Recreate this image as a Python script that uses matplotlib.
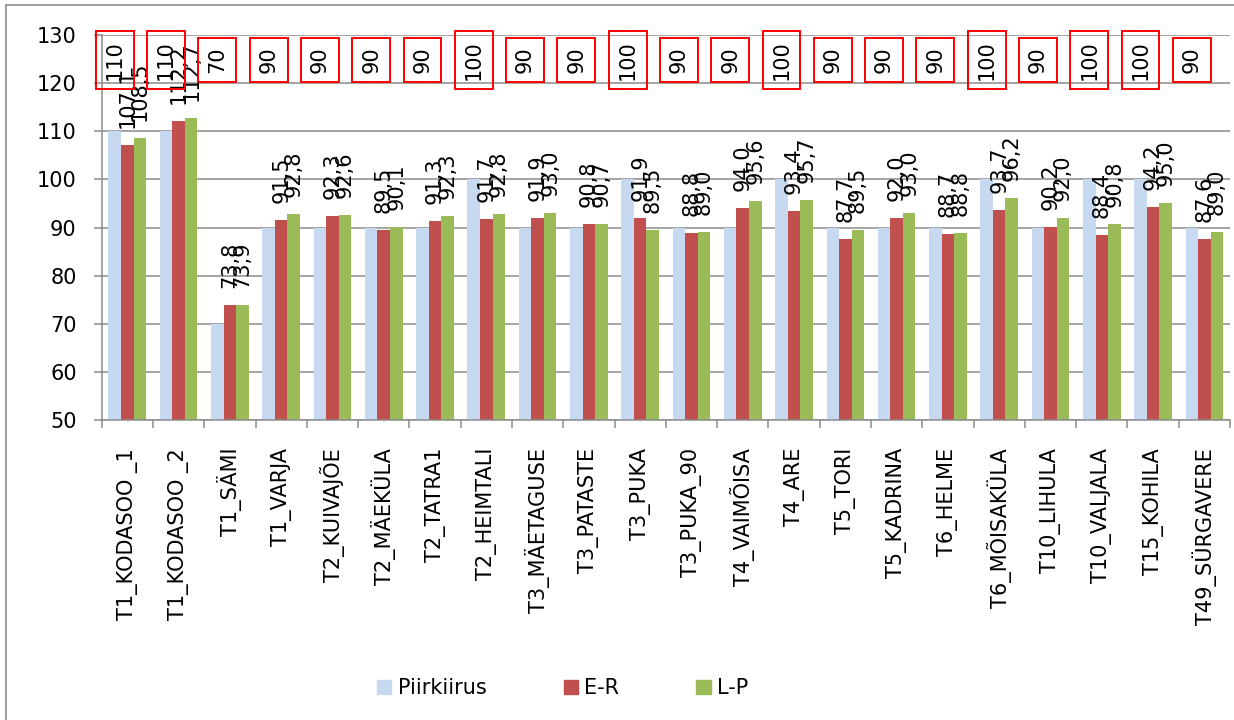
import matplotlib as mpl
mpl.use('Agg')
import matplotlib.pyplot as plt
import matplotlib.ticker as ticker
from matplotlib.patches import Rectangle, Patch
import numpy as np

plt.rcParams['font.family'] = ['DejaVu Sans']

categories = ['T1_KODASOO _1', 'T1_KODASOO _2', 'T1_SÄMI', 'T1_VARJA', 'T2_KUIVAJÕE',
              'T2_MÄEKÜLA', 'T2_TATRA1', 'T2_HEIMTALI', 'T3_MÄETAGUSE', 'T3_PATASTE',
              'T3_PUKA', 'T3_PUKA_90', 'T4_VAIMÕISA', 'T4_ARE', 'T5_TORI', 'T5_KADRINA',
              'T6_HELME', 'T6_MÕISAKÜLA', 'T10_LIHULA', 'T10_VALJALA', 'T15_KOHILA',
              'T49_SÜRGAVERE']
piirkiirus = [110, 110, 70, 90, 90, 90, 90, 100, 90, 90, 100, 90, 90, 100, 90, 90, 90,
              100, 90, 100, 100, 90]
er = [107.1, 112.2, 73.8, 91.5, 92.3, 89.5, 91.3, 91.7, 91.9, 90.8, 91.9, 88.8, 94.0,
      93.4, 87.7, 92.0, 88.7, 93.7, 90.2, 88.4, 94.2, 87.6]
lp = [108.5, 112.7, 73.9, 92.8, 92.6, 90.1, 92.3, 92.8, 93.0, 90.7, 89.5, 89.0, 95.6,
      95.7, 89.5, 93.0, 88.8, 96.2, 92.0, 90.8, 95.0, 89.0]

c_blue = '#C6D9F1'
c_red = '#C0504D'
c_green = '#9BBB59'
grey = '#8c8c8c'
fs = 15

fig = plt.figure(figsize=(12.34, 7.2), dpi=100)
ax = fig.add_axes([101.7 / 1234, 1 - 420 / 720, (1230 - 101.7) / 1234, (420 - 35) / 720])

# chart border
fig.patches.append(Rectangle((6 / 1234, -0.1), 1.2, 1 - 5 / 720 + 0.1, transform=fig.transFigure,
                             fill=False, edgecolor=grey, lw=1.2))

x = np.arange(len(categories))
w = 0.245
ax.bar(x - w, piirkiirus, w, color=c_blue, label='Piirkiirus', zorder=2)
b_er = ax.bar(x, er, w, color=c_red, label='E-R', zorder=2)
b_lp = ax.bar(x + w, lp, w, color=c_green, label='L-P', zorder=2)

def fmt(v):
    return '{:.1f}'.format(v).replace('.', ',')

for xs, vals in [(x, er), (x + w, lp)]:
    for xi, v in zip(xs, vals):
        ax.annotate(fmt(v), (xi, v), xytext=(0, 17), textcoords='offset pixels',
                    rotation=90, ha='center', va='bottom', fontsize=fs, zorder=4)

for xi, v in zip(x - w, piirkiirus):
    ax.text(xi, 124.8, str(v), rotation=90, ha='center', va='center', fontsize=fs,
            zorder=5, clip_on=False,
            bbox=dict(boxstyle='square,pad=0.43', facecolor='none', edgecolor='red', lw=1.4))

ax.set_xlim(-0.5, len(categories) - 0.5)
ax.set_ylim(50, 130)
ax.yaxis.set_major_locator(ticker.MultipleLocator(10))
ax.grid(axis='y', color=grey, lw=1.1)
ax.set_axisbelow(True)

ax.set_xticks(x)
ax.set_xticklabels(categories, rotation=90, fontsize=fs, va='top', ha='center')
ax.set_xticks(np.arange(-0.5, len(categories)), minor=True)
ax.tick_params(axis='x', which='major', length=0, pad=20)
ax.tick_params(axis='x', which='minor', length=6, color=grey, width=1.1)
ax.tick_params(axis='y', length=6, color=grey, width=1.1, pad=12, labelsize=fs)

for s in ['top', 'right']:
    ax.spines[s].set_visible(False)
for s in ['left', 'bottom']:
    ax.spines[s].set_color(grey)
    ax.spines[s].set_linewidth(1.1)

handles = [Patch(color=c_blue), Patch(color=c_red), Patch(color=c_green)]
fig.legend(handles, ['Piirkiirus', 'E-R', 'L-P'], loc='center', bbox_to_anchor=(0.456, 0.044),
           ncol=3, frameon=False, fontsize=fs, handlelength=0.7, handleheight=0.7,
           handletextpad=0.3, columnspacing=3.7)

fig.savefig('out.png', dpi=100)
